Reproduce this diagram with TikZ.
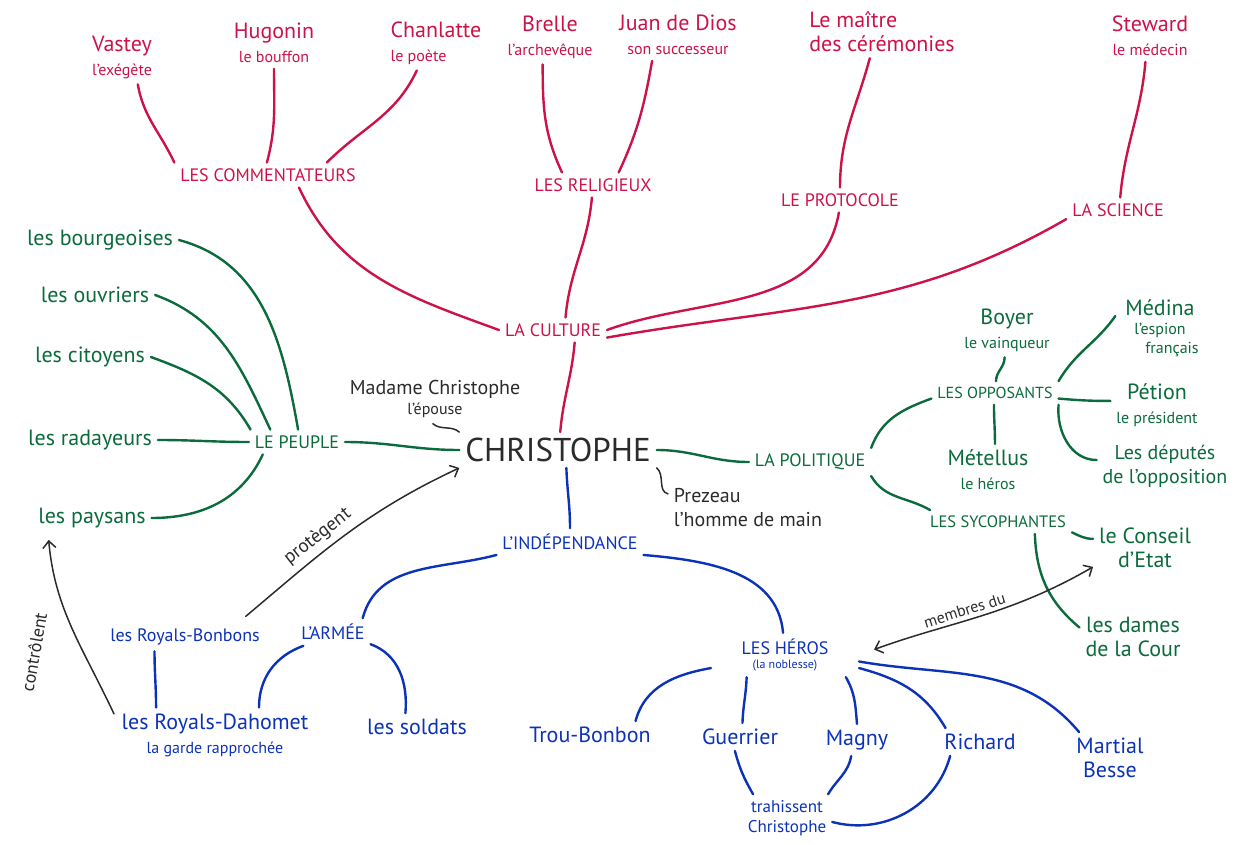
\documentclass[tikz,border=0pt]{standalone}
\usepackage{fontspec}
\setmainfont{PT Sans}
\usetikzlibrary{arrows.meta}
\definecolor{rouge}{HTML}{CC1249}
\definecolor{vert}{HTML}{0B6B3C}
\definecolor{bleu}{HTML}{0C32B8}
\definecolor{encre}{HTML}{2B2B2B}
\newcommand{\sous}[1]{{\fontsize{16}{17}\selectfont #1}}
\tikzset{
	basics/.style={inner sep=2pt, outer sep=4pt, align=center},
	theme/.style={basics, font=\fontsize{18}{20}\selectfont},
	person/.style={basics, font=\fontsize{22}{24}\selectfont},
	note/.style={font=\fontsize{16}{17}\selectfont, text=encre, inner sep=4pt},
	redline/.style={draw=rouge, line width=2.4pt, line cap=round},
	greenline/.style={draw=vert, line width=2.4pt, line cap=round},
	blueline/.style={draw=bleu, line width=2.4pt, line cap=round},
	arrow/.style={draw=encre, line width=1.5pt, line cap=round, >={Straight Barb[length=7pt,width=13pt]}},
}

\begin{document}
\begin{tikzpicture}[x=1pt, y=1pt]
\useasboundingbox (0,0) rectangle (1237,-845);
% la culture
\node (vastey) [person, text=rouge] at (122,-57) {Vastey\\\sous{l'exégète}};
\node (hugonin) [person, text=rouge] at (274,-43) {Hugonin\\\sous{le bouffon}};
\node (chanlatte) [person, text=rouge, align=left] at (436,-43) {Chanlatte\\\sous{le poète}};
\node (brelle) [person, text=rouge] at (550,-37) {Brelle\\\sous{l'archevêque}};
\node (juan) [person, text=rouge] at (678,-35) {Juan de Dios\\\sous{son successeur}};
\node (maitre) [person, text=rouge, align=left] at (882,-32) {Le maître\\des cérémonies};
\node (steward) [person, text=rouge] at (1150,-36) {Steward\\\sous{le médecin}};
\node (comm) [theme, text=rouge] at (268,-175) {LES COMMENTATEURS};
\node (relig) [theme, text=rouge] at (593,-185) {LES RELIGIEUX};
\node (proto) [theme, text=rouge] at (840,-200) {LE PROTOCOLE};
\node (science) [theme, text=rouge] at (1118,-210) {LA SCIENCE};
\node (culture) [theme, text=rouge] at (553,-330) {LA CULTURE};
% le centre
\node (christophe) [basics, font=\fontsize{33}{35}\selectfont, text=encre] at (558,-450) {CHRISTOPHE};
\node (madame) [basics, font=\fontsize{20}{20}\selectfont, text=encre] at (435,-399) {Madame Christophe\\\sous{l'épouse}};
\node (prezeau) [basics, font=\fontsize{20}{24}\selectfont, text=encre, align=left] at (748,-508) {Prezeau\\l'homme de main};
% le peuple
\node (peuple) [theme, text=vert] at (297,-442) {LE PEUPLE};
\node (bourg) [person, text=vert] at (100,-240) {les bourgeoises};
\node (ouvriers) [person, text=vert] at (95,-295) {les ouvriers};
\node (citoyens) [person, text=vert] at (90,-357) {les citoyens};
\node (radayeurs) [person, text=vert] at (90,-440) {les radayeurs};
\node (paysans) [person, text=vert] at (92,-518) {les paysans};
% la politique
\node (politique) [theme, text=vert] at (810,-462) {LA POLITIQUE};
\node (opposants) [theme, text=vert, font=\fontsize{16}{18}\selectfont] at (995,-393) {LES OPPOSANTS};
\node (boyer) [person, text=vert] at (1007,-330) {Boyer\\\sous{le vainqueur}};
\node (medina) [person, text=vert] at (1160,-328) {Médina\\[-5pt]\sous{l'espion}\\[-5pt]\sous{\hspace{1.5em}français}};
\node (petion) [person, text=vert] at (1157,-405) {Pétion\\\sous{le président}};
\node (deputes) [person, text=vert, font=\fontsize{20}{24}\selectfont] at (1165,-466) {Les députés\\de l'opposition};
\node (metellus) [person, text=vert] at (988,-470) {Métellus\\\sous{le héros}};
\node (sycoph) [theme, text=vert, font=\fontsize{16.5}{18}\selectfont] at (998,-522) {LES SYCOPHANTES};
\node (conseil) [person, text=vert] at (1145,-548) {le Conseil\\d'Etat};
\node (dames) [person, text=vert] at (1133,-637) {les dames\\de la Cour};
% l'independance
\node (indep) [theme, text=bleu] at (570,-542) {L'INDÉPENDANCE};
\node (armee) [theme, text=bleu] at (333,-632) {L'ARMÉE};
\node (bonbons) [basics, font=\fontsize{18}{20}\selectfont, text=bleu] at (185,-637) {les Royals-Bonbons};
\node (dahomet) [person, text=bleu] at (215,-735) {les Royals-Dahomet\\\sous{la garde rapprochée}};
\node (soldats) [person, text=bleu] at (417,-727) {les soldats};
\node (heros) [theme, text=bleu, minimum width=140pt] at (785,-655) {LES HÉROS\\[-6pt]{\fontsize{12}{12}\selectfont(la noblesse)}};
\node (troubonbon) [person, text=bleu] at (590,-735) {Trou-Bonbon};
\node (guerrier) [person, text=bleu] at (740,-737) {Guerrier};
\node (magny) [person, text=bleu] at (857,-740) {Magny};
\node (richard) [person, text=bleu] at (980,-742) {Richard};
\node (martial) [person, text=bleu] at (1110,-758) {Martial\\Besse};
\node (trahissent) [basics, font=\fontsize{17}{20}\selectfont, text=bleu] at (787,-818) {trahissent\\Christophe};
\node (ctrl) [note, font=\fontsize{18}{19}\selectfont, rotate=80] at (34,-652) {contrôlent};

\foreach \a/\b/\o/\i in {vastey.-60/comm.north west/-80/115, hugonin.south/comm.95/-90/75, chanlatte.-125/comm.12/-115/45, brelle.-105/relig.158/-90/115, juan.-135/relig.26/-100/65, maitre.-115/proto.north/-105/90, steward.-100/science.80/-95/85, comm.-22/culture.west/-65/160, relig.-95/culture.45/-95/85, proto.-95/culture.east/-100/20, science.-170/culture.-8/-150/10, culture.-30/christophe.83/-95/85}
	\draw [redline] (\a) to[out=\o, in=\i] (\b);
\foreach \a/\b/\o/\i in {peuple.east/christophe.west/0/180, bourg.east/peuple.85/-15/100, ouvriers.east/peuple.155/-20/115, citoyens.east/peuple.165/-20/120, radayeurs.east/peuple.west/0/180, paysans.east/peuple.-160/0/-115, christophe.east/politique.west/0/180, politique.north east/opposants.-175/70/-160, politique.south east/sycoph.170/-60/150, opposants.85/boyer.-95/90/-90, opposants.north east/medina.165/60/-125, opposants.-5/petion.175/-5/180, opposants.south east/deputes.175/-95/180, opposants.-95/metellus.75/-90/90, sycoph.-8/conseil.170/-25/180, sycoph.-18/dames.170/-88/140}
	\draw [greenline] (\a) to[out=\o, in=\i] (\b);
\foreach \a/\b/\o/\i in {christophe.-65/indep.north/-88/90, indep.-170/armee.25/-165/75, indep.-10/heros.95/-5/95, armee.-155/dahomet.32/-160/90, armee.-18/soldats.130/-20/85, bonbons.-155/dahomet.155/-90/90, heros.-170/troubonbon.17/-170/75, heros.-150/guerrier.80/-92/88, heros.-20/magny.north/-60/95, heros.-10/richard.158/-15/120, heros.-5/martial.140/-10/130, guerrier.-110/trahissent.145/-75/120, magny.-110/trahissent.30/-100/60, richard.-155/trahissent.-5/-105/-15}
	\draw [blueline] (\a) to[out=\o, in=\i] (\b);

\draw [arrow] (madame.-95) to[out=-40, in=140] (christophe.north west);
\draw [arrow] (christophe.south east) to[out=-40, in=165] (prezeau.170);
\draw [arrow, ->, shorten <=10pt] (bonbons.15) to[out=40, in=-155] node[note, font=\fontsize{19}{20}\selectfont, pos=.42, sloped, above=2pt] {protègent} (christophe.south west);
\draw [arrow, ->, shorten <=4pt, shorten >=6pt] (dahomet.170) to[out=115, in=-85] (paysans.-160);
\draw [arrow, <->, shorten <=16pt] (heros.east) to[out=20, in=-150] node[note, pos=.45, sloped, above] {membres du} (conseil.-160);
%\draw [arrow, ->] (peuple) -- (christophe);
\end{tikzpicture}
\end{document}
